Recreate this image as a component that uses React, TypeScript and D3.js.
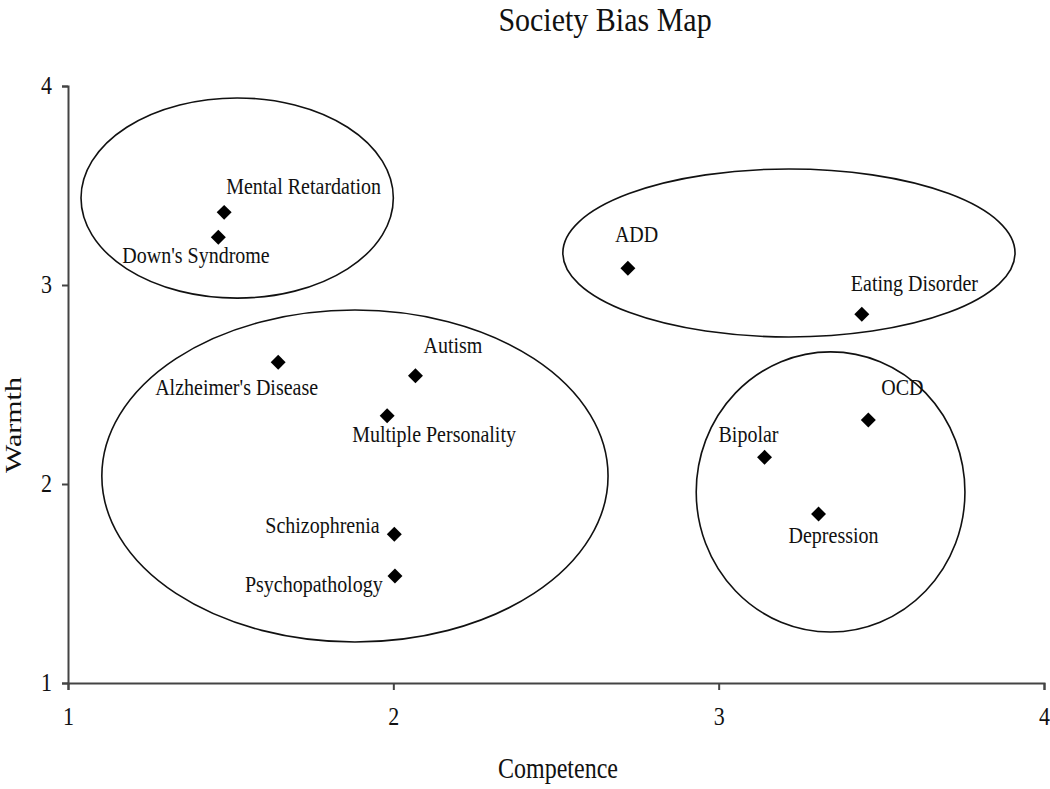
import React, { useRef, useEffect } from 'react';
import * as d3 from 'd3';

// Disorder positions (competence, warmth)
const labels = [
  'Mental Retardation', "Down's Syndrome", 'ADD', 'Eating Disorder',
  "Alzheimer's Disease", 'Autism', 'Multiple Personality', 'Schizophrenia',
  'Psychopathology', 'OCD', 'Bipolar', 'Depression'
];
const competence = [1.48, 1.462, 2.721, 3.44, 1.646, 2.068, 1.981, 2.003, 2.005, 3.46, 3.141, 3.307];
const warmth = [3.365, 3.24, 3.084, 2.853, 2.612, 2.544, 2.343, 1.747, 1.538, 2.322, 2.134, 1.849];

// label offsets from the marker, in px
const labelDx = [2, -96, -13, -11, -123, 8, -35, -129, -150, 13, -46, -30];
const labelDy = [-18, 26, -26, -23, 33, -23, 26, -1, 16, -25, -15, 29];

// cluster ellipses: centre and radii, in data units
const clusterCx = [1.52, 1.882, 3.216, 3.344];
const clusterCy = [3.437, 2.04, 3.161, 1.96];
const clusterRx = [0.48, 0.778, 0.695, 0.413];
const clusterRy = [0.503, 0.834, 0.422, 0.704];

const tickValues = [1, 2, 3, 4];

const W = 1050;
const H = 789;
const FONT = '"Liberation Serif", "Times New Roman", serif';

export default function App() {
  const svgRef = useRef<SVGSVGElement>(null);

  useEffect(() => {
    const svg = d3.select(svgRef.current);
    svg.selectAll('*').remove();

    const x = d3.scaleLinear().domain([1, 4]).range([68, 1044]);
    const y = d3.scaleLinear().domain([1, 4]).range([683, 86]);

    svg.append('rect').attr('width', W).attr('height', H).attr('fill', '#fff');

    // Title (the source glyphs are a bit taller than wide)
    svg.append('text')
      .attr('transform', 'translate(605,31) scale(1,1.12)')
      .attr('text-anchor', 'middle')
      .attr('font-family', FONT)
      .attr('font-size', 30)
      .attr('fill', '#111')
      .text('Society Bias Map');

    // Axes
    const xAxis = svg.append('g')
      .attr('transform', `translate(0,${y(1)})`)
      .call(d3.axisBottom(x).tickValues(tickValues).tickFormat(d3.format('d')).tickSize(7).tickPadding(19));
    const yAxis = svg.append('g')
      .attr('transform', `translate(${x(1)},0)`)
      .call(d3.axisLeft(y).tickValues(tickValues).tickFormat(d3.format('d')).tickSize(6).tickPadding(10));

    [xAxis, yAxis].forEach(ax => {
      ax.attr('font-family', FONT).attr('font-size', 22);
      ax.selectAll('path, line').attr('stroke', '#444').attr('stroke-width', 2);
      ax.selectAll('text').attr('fill', '#111');
    });

    xAxis.selectAll('.tick text').each(function () {
      const t = d3.select(this);
      const ty = +t.attr('y');
      t.attr('y', null).attr('dy', null)
        .attr('transform', `translate(0,${ty + 16}) scale(1,1.15)`);
    });
    yAxis.selectAll('.tick text').each(function () {
      const t = d3.select(this);
      const tx = +t.attr('x');
      t.attr('x', null).attr('dy', null)
        .attr('transform', `translate(${tx},7) scale(1,1.15)`);
    });

    // Axis titles
    svg.append('text')
      .attr('transform', 'translate(558,778) scale(1,1.2)')
      .attr('text-anchor', 'middle')
      .attr('font-family', FONT)
      .attr('font-size', 24)
      .attr('fill', '#111')
      .text('Competence');

    svg.append('text')
      .attr('transform', 'translate(21,425) rotate(-90) scale(1.25,1)')
      .attr('text-anchor', 'middle')
      .attr('font-family', FONT)
      .attr('font-size', 24)
      .attr('fill', '#111')
      .text('Warmth');

    // Cluster ellipses
    svg.append('g')
      .selectAll('ellipse')
      .data(clusterCx)
      .enter()
      .append('ellipse')
      .attr('cx', d => x(d))
      .attr('cy', (d, i) => y(clusterCy[i]))
      .attr('rx', (d, i) => x(1 + clusterRx[i]) - x(1))
      .attr('ry', (d, i) => y(1) - y(1 + clusterRy[i]))
      .attr('fill', 'none')
      .attr('stroke', '#111')
      .attr('stroke-width', 1.6);

    // Markers
    const diamond = d3.symbol().type(d3.symbolSquare).size(112);
    const pts = svg.append('g')
      .selectAll('g')
      .data(labels)
      .enter()
      .append('g')
      .attr('transform', (d, i) => `translate(${x(competence[i])},${y(warmth[i])})`);

    pts.append('path')
      .attr('d', diamond)
      .attr('transform', 'rotate(45)')
      .attr('fill', '#000');

    pts.append('text')
      .attr('transform', (d, i) => `translate(${labelDx[i]},${labelDy[i]}) scale(1,1.13)`)
      .attr('font-family', FONT)
      .attr('font-size', 20)
      .attr('fill', '#111')
      .text(d => d);
  }, []);

  return (
    <svg
      ref={svgRef}
      width={W}
      height={H}
      style={{ position: 'absolute', left: 0, top: 0 }}
    ></svg>
  );
}
